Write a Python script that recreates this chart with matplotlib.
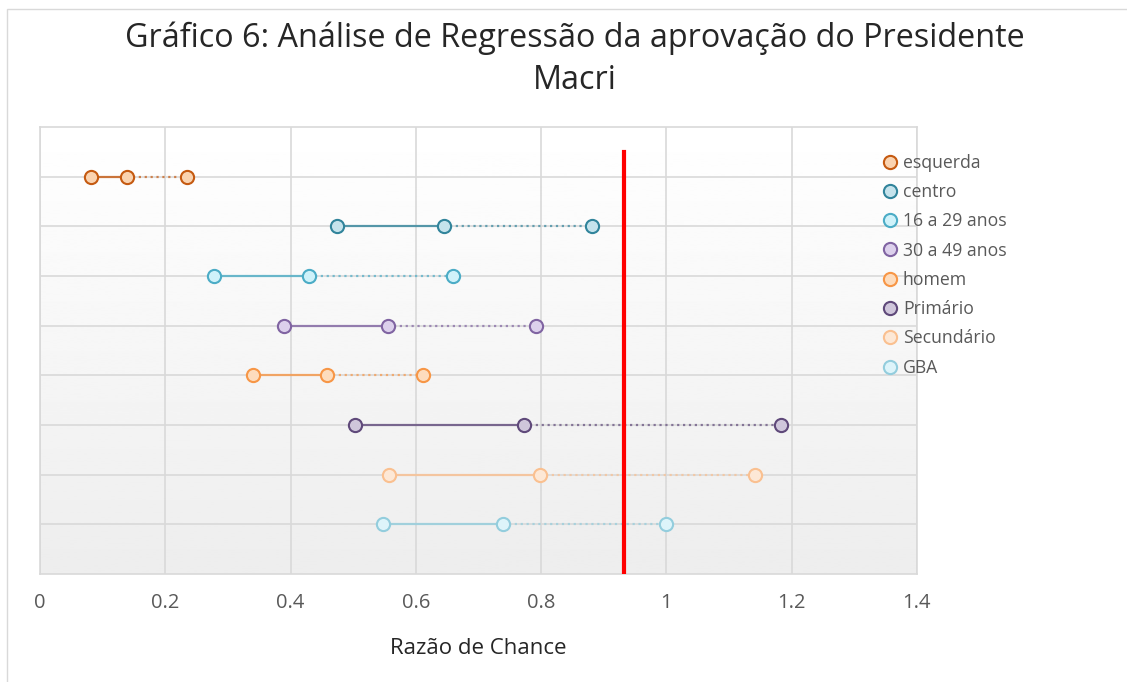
import numpy as np
import matplotlib.pyplot as plt
from matplotlib.patches import Rectangle

plt.rcParams['font.family'] = ['Open Sans', 'DejaVu Sans']

# dados: limite inferior, estimativa, limite superior
categorias = ['esquerda', 'centro', '16 a 29 anos', '30 a 49 anos',
              'homem', 'Primário', 'Secundário', 'GBA']
inferior = [0.081, 0.474, 0.278, 0.390, 0.340, 0.503, 0.557, 0.548]
estimativa = [0.139, 0.645, 0.429, 0.556, 0.458, 0.773, 0.798, 0.739]
superior = [0.235, 0.881, 0.659, 0.792, 0.611, 1.183, 1.141, 0.999]
referencia = 0.932

bordas = ['#C55A11', '#31849B', '#4BACC6', '#8064A2',
          '#F79646', '#5F497A', '#FAC090', '#93CDDD']
faces = ['#FAD3B0', '#C5E3EC', '#CFF2FA', '#DCD0EC',
         '#FDDCBD', '#CFC6DB', '#FDE8D6', '#DDF4FA']

fig = plt.figure(figsize=(11.27, 6.82), dpi=100)
fig.patches.append(Rectangle((0.006, -0.01), 1.1, 0.997, transform=fig.transFigure,
                             fill=False, edgecolor='#D9D9D9', linewidth=1))
ax = fig.add_axes([0.0355, 0.1584, 0.778, 0.6554])

# fundo em degradê
grad = np.linspace(1.0, 0.93, 256).reshape(-1, 1)
ax.imshow(grad, cmap='gray', vmin=0, vmax=1, extent=[0, 1.4, 0, 9],
          aspect='auto', origin='upper', zorder=0)

n = len(categorias)
for i, nome in enumerate(categorias):
    y = n - i
    ax.plot([inferior[i], estimativa[i]], [y, y], '-', color=bordas[i],
            lw=1.6, alpha=0.8, zorder=2)
    ax.plot([estimativa[i], superior[i]], [y, y], ':', color=bordas[i],
            lw=1.6, alpha=0.7, zorder=2)
    ax.plot([inferior[i], estimativa[i], superior[i]], [y, y, y], 'o',
            markersize=9.5, markerfacecolor=faces[i], markeredgecolor=bordas[i],
            markeredgewidth=1.5, zorder=3, label=nome)

ax.plot([referencia, referencia], [0, 8.5], color='#FF0000', lw=3, zorder=4)

ax.set_xlim(0, 1.4)
ax.set_ylim(0, 9)
ax.set_xticks(np.arange(0, 1.41, 0.2))
ax.set_xticklabels(['0', '0.2', '0.4', '0.6', '0.8', '1', '1.2', '1.4'])
ax.set_yticks(range(1, 9))
ax.set_yticklabels([])
ax.tick_params(length=0, labelsize=14.5, labelcolor='#595959', pad=14)
ax.grid(True, color='#D9D9D9', lw=1.2, zorder=1)
ax.set_axisbelow(True)
for s in ax.spines.values():
    s.set_color('#D9D9D9')
    s.set_linewidth(1.2)

fig.text(0.4246, 0.049, 'Razão de Chance', ha='center', va='center',
         fontsize=16, color='#262626')
fig.text(0.51, 0.913, 'Gráfico 6: Análise de Regressão da aprovação do Presidente\nMacri',
         ha='center', va='center', fontsize=23.3, color='#262626', linespacing=1.38)

leg = ax.legend(loc='upper left', bbox_to_anchor=(0.776, 0.785),
                bbox_transform=fig.transFigure, frameon=False, fontsize=12.7,
                handlelength=1.0, handletextpad=0.2, labelspacing=0.64,
                borderaxespad=0)
for t in leg.get_texts():
    t.set_color('#595959')

fig.savefig('out.png', dpi=100)
